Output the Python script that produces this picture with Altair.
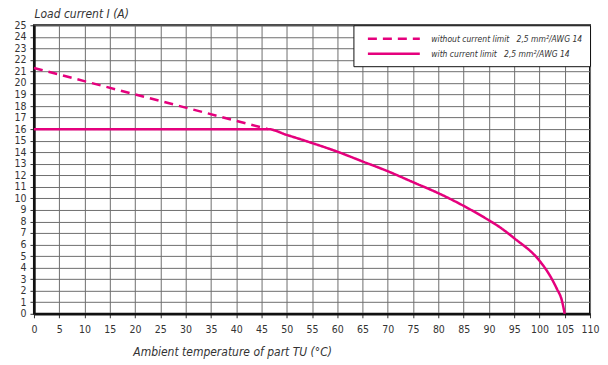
import altair as alt
import pandas as pd

FONT = "Liberation Sans Narrow, DejaVu Sans Condensed, Roboto, sans-serif"
MAGENTA = "#e5007d"

series_names = [
    "without current limit\u00a0\u00a0\u00a02,5 mm\u00b2/AWG 14",
    "with current limit\u00a0\u00a0\u00a02,5 mm\u00b2/AWG 14",
]

temp_dashed = [0, 46.3]
current_dashed = [21.3, 16.0]

temp_solid = [0, 46.3, 50, 55, 60, 65, 70, 75, 80, 85, 90, 92, 95, 100, 101.8, 103.4, 104.4, 105]
current_solid = [16, 16, 15.5, 14.8, 14.05, 13.2, 12.35, 11.4, 10.45, 9.35, 8.1, 7.55, 6.55, 4.6, 3.5, 2.2, 1.2, 0]

x_ticks = list(range(0, 111, 5))
y_ticks = list(range(0, 26, 1))

rows = []
for t, c in zip(temp_dashed, current_dashed):
    rows.append({"T": t, "I": c, "series": series_names[0]})
for t, c in zip(temp_solid, current_solid):
    rows.append({"T": t, "I": c, "series": series_names[1]})
df = pd.DataFrame(rows)

legend = alt.Legend(
    title=None, orient="top-right", offset=0,
    symbolType="M0.2,0H10.6", symbolSize=100, symbolStrokeWidth=2.5,
    symbolFillColor="transparent",
    padding=7, rowPadding=3, labelOffset=58,
)

chart = alt.Chart(df).mark_line(strokeWidth=2.5, interpolate="monotone").encode(
    x=alt.X("T:Q", scale=alt.Scale(domain=[0, 110], nice=False, zero=False),
            axis=alt.Axis(values=x_ticks, title="Ambient temperature of part TU (\u00b0C)",
                          titleX=99, titleY=38, titleAlign="left", titleBaseline="middle",
                          titleAnchor="start", labelOverlap=False, labelFlush=False)),
    y=alt.Y("I:Q", scale=alt.Scale(domain=[0, 25], nice=False),
            axis=alt.Axis(values=y_ticks, title="Load current I (A)",
                          titleAngle=0, titleX=0, titleY=-17, titleAlign="left",
                          titleBaseline="top", titleAnchor="start", labelOverlap=False,
                          labelFlush=False)),
    color=alt.Color("series:N", scale=alt.Scale(domain=series_names, range=[MAGENTA, MAGENTA]),
                    legend=legend),
    strokeDash=alt.StrokeDash("series:N", scale=alt.Scale(domain=series_names, range=[[9, 6], [1, 0]]),
                              legend=legend),
    order=alt.Order("T:Q"),
).properties(
    width=557, height=289,
    autosize=alt.AutoSizeParams(type="none"),
    padding={"left": 26, "top": 17, "right": 10, "bottom": 50},
).configure_view(
    stroke="#111111", strokeWidth=2
).configure_axis(
    grid=True, gridColor="#6e6e6e", gridWidth=1, gridOpacity=1,
    domainColor="#111111", domainWidth=2.5,
    tickColor="#333333", tickSize=4, tickWidth=1,
    labelFont=FONT, labelFontSize=10.5, labelColor="#333333",
    titleFont=FONT, titleFontSize=12, titleFontStyle="italic", titleFontWeight="normal",
    titleColor="#333333",
).configure_axisX(
    labelPadding=7,
).configure_axisY(
    labelPadding=4,
).configure_legend(
    fillColor="white", strokeColor="#111111",
    labelFont=FONT, labelFontSize=8.5, labelFontStyle="italic", labelColor="#333333",
    labelLimit=300,
)

chart.save("out.html", embed_options={"renderer": "svg", "actions": False})
